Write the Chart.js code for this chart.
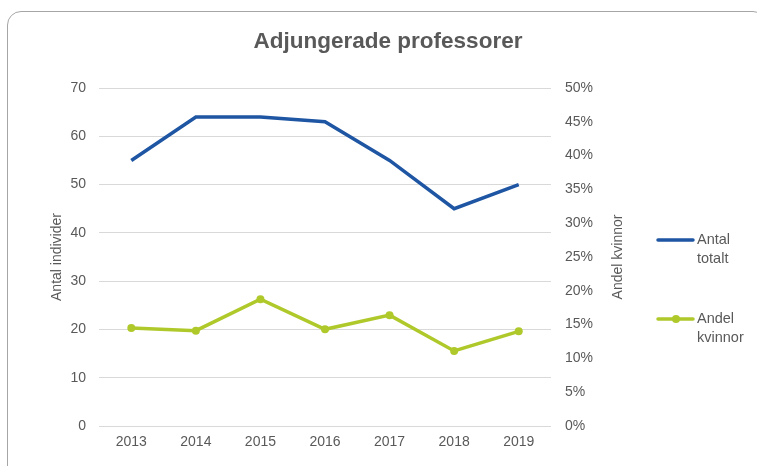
<!DOCTYPE html>
<html>
<head>
<meta charset="utf-8">
<script src="https://cdn.jsdelivr.net/npm/chart.js@4"></script>
<style>
  html, body { margin: 0; padding: 0; background: #fff; }
  #wrap { position: relative; width: 757px; height: 466px; overflow: hidden; }
  #frame { position: absolute; left: 7px; top: 11px; width: 760px; height: 470px;
           border: 1px solid #a6a6a6; border-radius: 14px; box-sizing: border-box; }
  canvas { position: absolute; left: 0; top: 0; }
</style>
</head>
<body>
<div id="wrap">
  <div id="frame"></div>
  <canvas id="chart" width="757" height="466"></canvas>
</div>
<script>
// data
const years = ['2013', '2014', '2015', '2016', '2017', '2018', '2019'];
const antalTotalt = [55, 64, 64, 63, 55, 45, 50];
const andelKvinnor = [14.5, 14.1, 18.75, 14.3, 16.4, 11.1, 14.0]; // procent

const grey = '#595959';
const blue = '#1f56a3';
const green = '#afc92b';
const font = 'Liberation Sans, Arial, sans-serif';

// title, axis titles + legend, drawn by hand (two-line labels, upward text on both sides)
const extras = {
  id: 'extras',
  afterDraw(chart) {
    const ctx = chart.ctx;
    const midY = (chart.chartArea.top + chart.chartArea.bottom) / 2;
    ctx.save();
    ctx.fillStyle = grey;
    ctx.textAlign = 'center';
    ctx.textBaseline = 'middle';
    ctx.font = 'bold 22.5px ' + font;
    ctx.fillText('Adjungerade professorer', 388, 42);

    ctx.font = '14px ' + font;
    [[57, 'Antal individer'], [618, 'Andel kvinnor']].forEach(([x, t]) => {
      ctx.save();
      ctx.translate(x, midY);
      ctx.rotate(-Math.PI / 2);
      ctx.fillText(t, 0, 0);
      ctx.restore();
    });

    // legend
    const items = [
      { lines: ['Antal', 'totalt'], color: blue, y: 240, dot: false },
      { lines: ['Andel', 'kvinnor'], color: green, y: 319, dot: true }
    ];
    ctx.textAlign = 'left';
    ctx.font = '14.5px ' + font;
    items.forEach(it => {
      ctx.strokeStyle = it.color;
      ctx.lineWidth = 3.5;
      ctx.lineCap = 'round';
      ctx.beginPath();
      ctx.moveTo(658, it.y);
      ctx.lineTo(693, it.y);
      ctx.stroke();
      if (it.dot) {
        ctx.fillStyle = it.color;
        ctx.beginPath();
        ctx.arc(676, it.y, 4, 0, Math.PI * 2);
        ctx.fill();
      }
      ctx.fillStyle = grey;
      it.lines.forEach((t, i) => ctx.fillText(t, 697, it.y + i * 19));
    });
    ctx.restore();
  }
};

new Chart(document.getElementById('chart'), {
  type: 'line',
  data: {
    labels: years,
    datasets: [
      {
        label: 'Antal totalt',
        data: antalTotalt,
        yAxisID: 'y',
        borderColor: blue,
        backgroundColor: blue,
        borderWidth: 3.5,
        pointRadius: 0,
        tension: 0
      },
      {
        label: 'Andel kvinnor',
        data: andelKvinnor,
        yAxisID: 'y1',
        borderColor: green,
        backgroundColor: green,
        borderWidth: 3.5,
        pointRadius: 4,
        pointBorderWidth: 0,
        tension: 0
      }
    ]
  },
  options: {
    responsive: false,
    animation: false,
    layout: { padding: { top: 88 } },
    plugins: {
      legend: { display: false },
      tooltip: { enabled: false },
      title: { display: false }
    },
    scales: {
      x: {
        offset: true,
        grid: { display: false, drawTicks: false },
        border: { display: false },
        ticks: { color: grey, font: { family: font, size: 14 }, padding: 8 },
        afterFit(s) { s.height = 40; }
      },
      y: {
        position: 'left',
        min: 0, max: 70,
        ticks: { stepSize: 10, color: grey, font: { family: font, size: 14 }, padding: 13 },
        grid: { color: '#d9d9d9', lineWidth: 1, drawTicks: false },
        border: { display: false },
        afterFit(s) { s.width = 99; }
      },
      y1: {
        position: 'right',
        min: 0, max: 50,
        ticks: { stepSize: 5, color: grey, font: { family: font, size: 14 }, padding: 14,
                 callback: v => v + '%' },
        grid: { display: false, drawTicks: false },
        border: { display: false },
        afterFit(s) { s.width = 206; }
      }
    }
  },
  plugins: [extras]
});
</script>
</body>
</html>
